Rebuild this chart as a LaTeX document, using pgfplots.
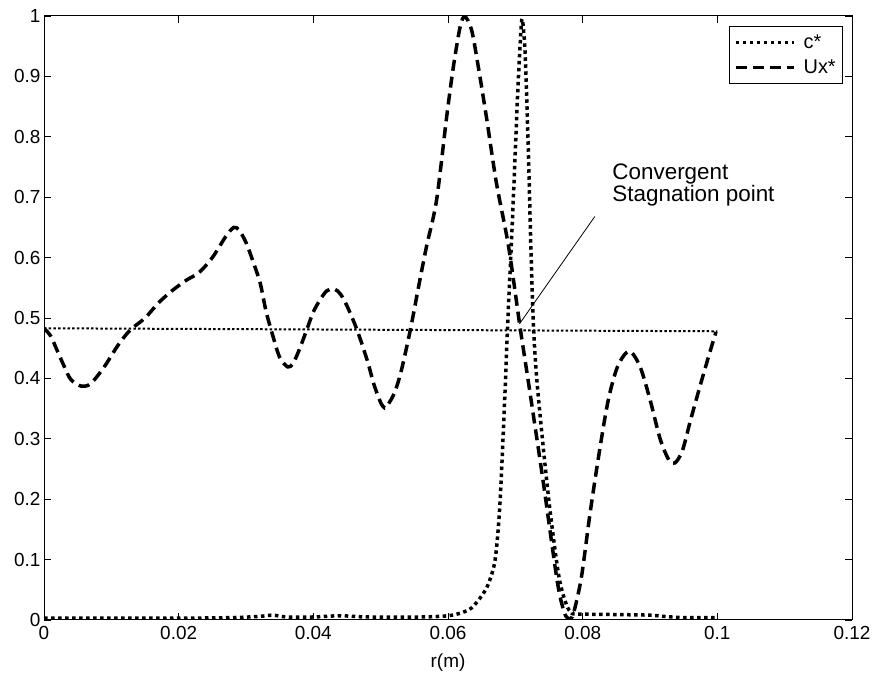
\documentclass[border=0pt]{standalone}
\usepackage{fontspec}
\setmainfont{Liberation Sans}
\usepackage{pgfplots}
\pgfplotsset{compat=1.18}
\begin{document}
\begin{tikzpicture}
\path[use as bounding box] (0,0) rectangle (876bp,675bp);
\begin{axis}[
  at={(44bp,55bp)}, anchor=south west,
  width=808bp, height=604bp, scale only axis,
  xmin=0, xmax=0.12, ymin=0, ymax=1,
  xtick={0,0.02,0.04,0.06,0.08,0.1,0.12},
  ytick={0,0.1,0.2,0.3,0.4,0.5,0.6,0.7,0.8,0.9,1},
  scaled x ticks=false, scaled y ticks=false,
  xticklabel style={/pgf/number format/fixed, /pgf/number format/precision=2, yshift=-3bp},
  yticklabel style={/pgf/number format/fixed, /pgf/number format/precision=1},
  /pgf/number format/assume math mode=true,
  tick label style={font=\fontsize{19}{20}\selectfont},
  major tick length=7bp,
  tick style={line width=0.8bp, black},
  axis line style={line width=1bp},
  xlabel={r(m)},
  xlabel style={font=\fontsize{19}{20}\selectfont, at={(axis description cs:0.5,0)}, anchor=center, yshift=-43bp},
  legend style={at={(rel axis cs:0.989,0.983)}, anchor=north east, draw=black, line width=0.8bp,
    font=\fontsize{20}{20}\selectfont, inner xsep=5bp, inner ysep=6bp, row sep=6bp, column sep=6bp},
  legend cell align=left,
  legend image code/.code={\draw[#1] (0bp,0bp) -- (58bp,0bp);},
]
\addplot[black, line width=2bp, dash pattern=on 2.5bp off 2.2bp, forget plot] coordinates {(0,0.483) (0.1,0.478)};
\addplot[black, line width=3.5bp, dash pattern=on 3.5bp off 3.5bp, smooth] coordinates {
(0,0.003) (0.01,0.003) (0.02,0.003) (0.028,0.004) (0.032,0.006) (0.034,0.008) (0.036,0.005)
(0.040,0.005) (0.044,0.007) (0.048,0.005) (0.056,0.005) (0.060,0.007) (0.062,0.012)
(0.0635,0.02) (0.065,0.04) (0.066,0.06) (0.067,0.10) (0.0677,0.19) (0.0684,0.36) (0.0689,0.50)
(0.0694,0.62) (0.0699,0.75) (0.0703,0.86) (0.0707,0.95) (0.0710,0.995) (0.0714,0.95)
(0.0717,0.86) (0.0720,0.75) (0.0723,0.62) (0.0727,0.485) (0.0732,0.397) (0.0742,0.28)
(0.0752,0.177) (0.0765,0.07) (0.0777,0.022) (0.0785,0.012) (0.079,0.01) (0.085,0.009)
(0.09,0.008) (0.092,0.006) (0.095,0.004) (0.1,0.004)};
\addlegendentry{c*}
\addplot[black, line width=3.5bp, dash pattern=on 11bp off 6bp, smooth] coordinates {
(0,0.483) (0.001,0.47) (0.002,0.445) (0.003,0.42) (0.004,0.398) (0.0056,0.387) (0.007,0.392)
(0.009,0.42) (0.011,0.455) (0.0128,0.48) (0.015,0.50) (0.017,0.525) (0.019,0.545)
(0.0212,0.563) (0.023,0.575) (0.025,0.60) (0.027,0.635) (0.0282,0.65) (0.029,0.645)
(0.030,0.625) (0.031,0.595) (0.0321,0.558) (0.033,0.51) (0.034,0.47) (0.035,0.435)
(0.0362,0.419) (0.037,0.425) (0.038,0.45) (0.039,0.48) (0.040,0.51) (0.041,0.53)
(0.042,0.545) (0.0431,0.548) (0.044,0.54) (0.045,0.52) (0.0465,0.48) (0.048,0.43)
(0.049,0.39) (0.050,0.36) (0.0506,0.351) (0.051,0.355) (0.052,0.375) (0.053,0.41)
(0.0544,0.48) (0.0556,0.55) (0.0568,0.618) (0.0583,0.695) (0.0598,0.833) (0.0608,0.916)
(0.0618,0.982) (0.0625,0.999) (0.0635,0.977) (0.0645,0.916) (0.0657,0.833) (0.0672,0.723)
(0.0690,0.618) (0.0707,0.485) (0.0719,0.397) (0.0741,0.232) (0.0762,0.066) (0.0772,0.015)
(0.0779,0.002) (0.0786,0.01) (0.0798,0.07) (0.0811,0.177) (0.0825,0.28) (0.0838,0.364)
(0.0852,0.42) (0.0869,0.445) (0.0885,0.42) (0.0900,0.365) (0.0915,0.30) (0.0928,0.265)
(0.0937,0.26) (0.0948,0.28) (0.0960,0.33) (0.0975,0.39) (0.0988,0.44) (0.0998,0.477)};
\addlegendentry{Ux*}
\draw[line width=0.8bp] (axis cs:0.0706,0.49) -- (axis cs:0.0818,0.668);
\node[anchor=north west, inner sep=0pt, align=left, font=\fontsize{22.5}{22}\selectfont]
  at (axis cs:0.0844,0.755) {Convergent\\Stagnation point};
\end{axis}
\end{tikzpicture}
\end{document}
